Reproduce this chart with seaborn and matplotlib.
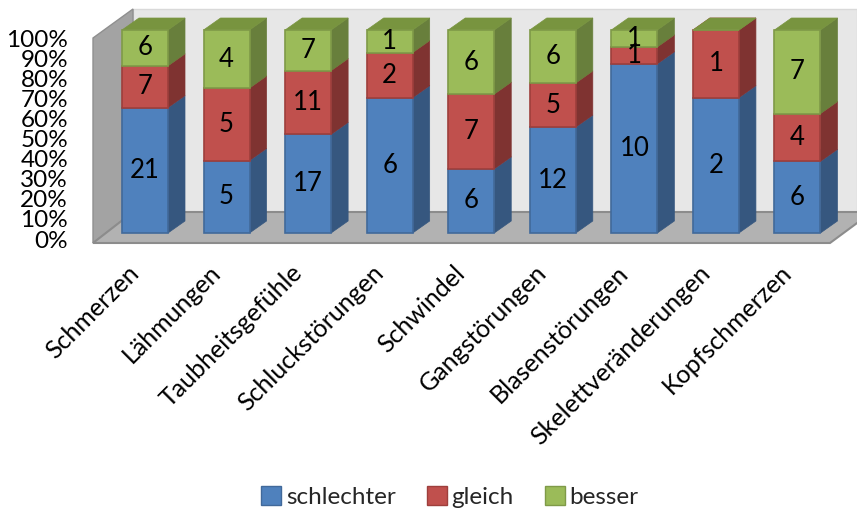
import numpy as np
import matplotlib
matplotlib.use("Agg")
import matplotlib.pyplot as plt
from matplotlib.patches import Polygon, Patch
import seaborn as sns

categories = ["Schmerzen", "Lähmungen", "Taubheitsgefühle", "Schluckstörungen",
              "Schwindel", "Gangstörungen", "Blasenstörungen",
              "Skelettveränderungen", "Kopfschmerzen"]
schlechter = [21, 5, 17, 6, 6, 12, 10, 2, 6]
gleich = [7, 5, 11, 2, 7, 5, 1, 1, 4]
besser = [6, 4, 7, 1, 6, 6, 1, 0, 7]
series_names = ["schlechter", "gleich", "besser"]
y_ticks = [0, 10, 20, 30, 40, 50, 60, 70, 80, 90, 100]

front_cols = ["#4F81BD", "#C0504D", "#9BBB59"]
side_cols = ["#36577f", "#7f3331", "#687f3c"]
top_cols = ["#4a77ae", "#a4423f", "#78943f"]
edge_cols = ["#41699a", "#9e3f3c", "#7f9a48"]

sns.set_theme(style="white")
plt.rcParams["font.family"] = ["Lato", "DejaVu Sans"]

W, H = 857, 511
fig = plt.figure(figsize=(W / 100, H / 100), dpi=100)
ax = fig.add_axes([0, 0, 1, 1])

# pixel <-> data mapping
X0, SX = 145.0, 81.56   # px of category 0 centre, px per category
Y0, SY = 233.0, 2.03    # px of 0 %, px per percent


def P(px, py):
    return ((px - X0) / SX, (Y0 - py) / SY)


DX, DY = 17 / SX, 12 / SY
BW = 46 / SX

# walls / floor
back = [P(133, 9), P(857, 9), P(857, 212), P(133, 212)]
ax.add_patch(Polygon(back, closed=True, facecolor="#e7e7e7", edgecolor="#d9d9d9", lw=1, zorder=0))
left = [P(93, 38), P(133, 9), P(133, 212), P(93, 243)]
ax.add_patch(Polygon(left, closed=True, facecolor="#a3a3a3", edgecolor="#8f8f8f", lw=1, zorder=0.5))
floor = [P(93, 243), P(133, 212), P(872, 212), P(830, 243)]
ax.add_patch(Polygon(floor, closed=True, facecolor="#b2b2b2", edgecolor="#8c8c8c", lw=1.5, zorder=0.6))

data = np.array([schlechter, gleich, besser], dtype=float)
tot = data.sum(axis=0)
pct = data / tot * 100
xs = np.arange(len(categories))

bottom = np.zeros(len(categories))
for k in range(3):
    vals = pct[k]
    # side + top faces
    for i in range(len(categories)):
        xl, xr = xs[i] - BW / 2, xs[i] + BW / 2
        yb, yt = bottom[i], bottom[i] + vals[i]
        side = [(xr, yb), (xr, yt), (xr + DX, yt + DY), (xr + DX, yb + DY)]
        ax.add_patch(Polygon(side, closed=True, facecolor=side_cols[k],
                             edgecolor=side_cols[k], lw=0.5, zorder=2 + k))
        top = [(xl, yt), (xr, yt), (xr + DX, yt + DY), (xl + DX, yt + DY)]
        ax.add_patch(Polygon(top, closed=True, facecolor=top_cols[k],
                             edgecolor=top_cols[k], lw=0.5, zorder=2 + k))
    sns.barplot(x=categories, y=vals, bottom=bottom, color=front_cols[k],
                saturation=1, width=BW, ax=ax, edgecolor=edge_cols[k],
                linewidth=1.2, zorder=2.5 + k)
    for i in range(len(categories)):
        if data[k, i] > 0:
            ax.text(xs[i], bottom[i] + vals[i] / 2, f"{int(data[k, i])}",
                    ha="center", va="center", fontsize=18.5, color="black", zorder=10)
    bottom = bottom + vals

# y tick labels (3D axis)
for j, t in enumerate(y_ticks):
    x, y = P(68, 241 - j * 20.1)
    ax.text(x, y, f"{t}%", ha="right", va="center", fontsize=17.5, color="black")

# x category labels
for i, c in enumerate(categories):
    x, _ = P(X0 + i * SX - 18, 0)
    _, y = P(0, 261)
    ax.text(x, y, c, rotation=45, rotation_mode="anchor", ha="right", va="top",
            fontsize=18, color="black")

ax.set_xlim(P(0, 0)[0], P(W, 0)[0])
ax.set_ylim(P(0, H)[1], P(0, 0)[1])
ax.axis("off")

handles = [Patch(facecolor=front_cols[k], edgecolor=edge_cols[k], label=series_names[k]) for k in range(3)]
fig.legend(handles=handles, loc="center", bbox_to_anchor=(450 / W, 1 - 497 / H), ncol=3,
           frameon=False, fontsize=17.5, handlelength=0.8, handleheight=0.8,
           handletextpad=0.2, columnspacing=1.3)

fig.savefig("out.png", dpi=100)
